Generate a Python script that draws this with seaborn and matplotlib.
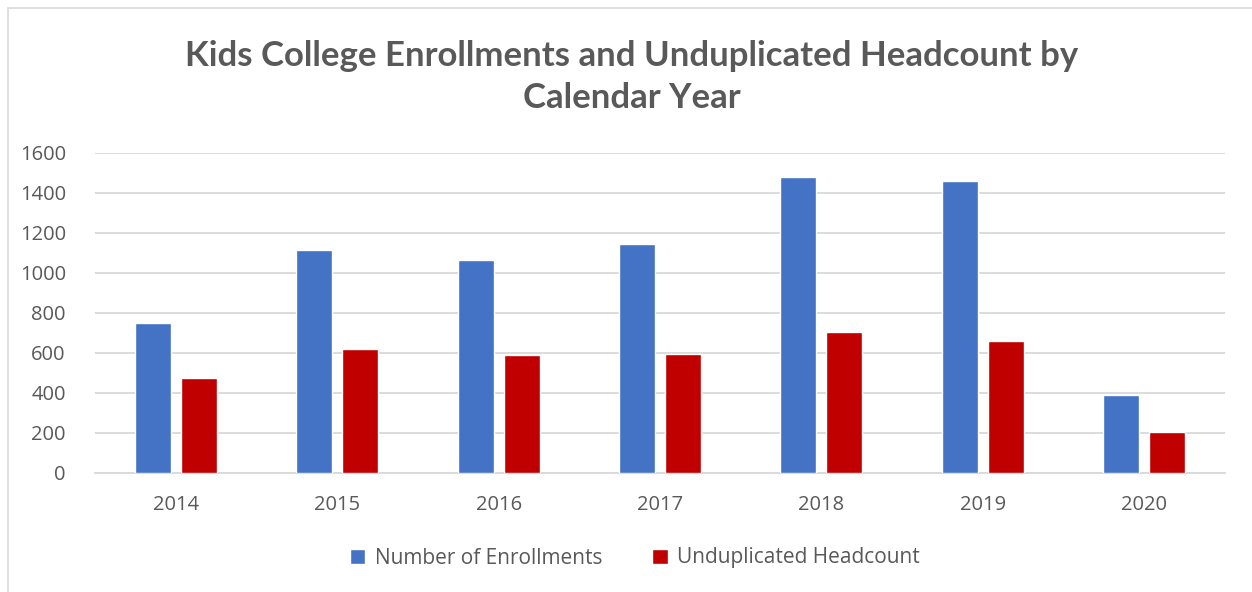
import matplotlib
matplotlib.use("Agg")
import matplotlib.pyplot as plt
import pandas as pd
import seaborn as sns
from matplotlib.patches import Rectangle

years = ["2014", "2015", "2016", "2017", "2018", "2019", "2020"]
enrollments = [750, 1113, 1063, 1147, 1478, 1460, 390]
headcount = [477, 620, 592, 593, 705, 662, 203]
series_names = ["Number of Enrollments", "Unduplicated Headcount"]
colors = ["#4472C4", "#C00000"]

df = pd.DataFrame({
    "year": years * 2,
    "value": enrollments + headcount,
    "series": [series_names[0]] * len(years) + [series_names[1]] * len(years),
})

sns.set_theme(style="white")
plt.rcParams["font.family"] = ["Open Sans", "DejaVu Sans"]
text_gray = "#595959"

fig = plt.figure(figsize=(12.52, 5.92), dpi=100)
ax = fig.add_axes([95 / 1252, 1 - 473 / 592, 1130 / 1252, 320 / 592])

sns.barplot(data=df, x="year", y="value", hue="series", palette=colors,
            width=0.57, gap=0.22, ax=ax, saturation=1, zorder=3)

ax.set_ylim(0, 1600)
ax.set_yticks(range(0, 1601, 200))
ax.yaxis.grid(True, color="#D9D9D9", linewidth=1.3, zorder=0)
ax.set_axisbelow(True)
for s in ["top", "right", "left"]:
    ax.spines[s].set_visible(False)
ax.spines["bottom"].set_color("#D9D9D9")
ax.spines["bottom"].set_linewidth(1.3)
ax.set_xlabel("")
ax.set_ylabel("")
ax.tick_params(axis="both", length=0, labelsize=14.5, labelcolor=text_gray)
ax.tick_params(axis="y", pad=21)
ax.tick_params(axis="x", pad=16)
for lbl in ax.get_yticklabels():
    lbl.set_horizontalalignment("right")

handles, labels = ax.get_legend_handles_labels()
ax.legend(handles, labels, loc="center", bbox_to_anchor=(635 / 1252, 1 - 558 / 592),
          bbox_transform=fig.transFigure, ncol=2, frameon=False,
          fontsize=15, handlelength=0.75, handleheight=0.75, columnspacing=2.4,
          handletextpad=0.45, labelcolor=text_gray)

fig.text(632 / 1252, 1 - 77 / 592,
         "Kids College Enrollments and Unduplicated Headcount by\nCalendar Year",
         ha="center", va="center", fontsize=25, fontweight="bold",
         color=text_gray, linespacing=1.38, family=["Lato", "DejaVu Sans"])

fig.patches.append(Rectangle((8 / 1252, -0.01), 1.1, 1 - 8 / 592 + 0.01,
                             transform=fig.transFigure, fill=False,
                             edgecolor="#D9D9D9", linewidth=1.2))

fig.savefig("out.png", dpi=100)
